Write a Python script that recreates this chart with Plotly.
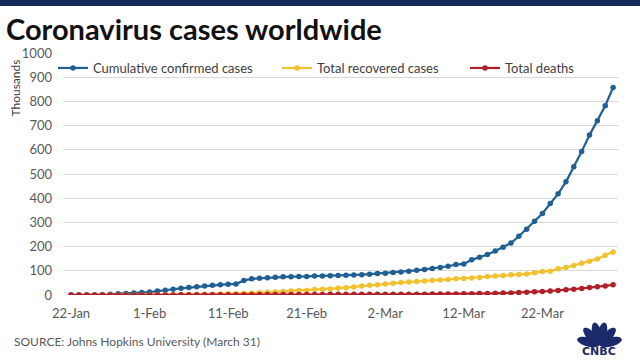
import math
import pandas as pd
import plotly.graph_objects as go

dates = pd.date_range("2020-01-22", "2020-03-31", freq="D")

confirmed = [0.555, 0.654, 0.941, 1.434, 2.118, 2.927, 5.578, 6.166, 8.234, 9.927,
             12.038, 16.787, 19.881, 23.892, 27.635, 30.794, 34.391, 37.120, 40.150, 42.762,
             44.802, 45.221, 60.368, 66.885, 69.030, 71.224, 73.258, 75.136, 75.639, 76.197,
             76.819, 78.572, 78.958, 79.561, 80.406, 81.388, 82.746, 84.112, 86.011,
             88.369, 90.306, 92.840, 95.120, 97.886, 101.801, 105.847, 109.821, 113.590, 118.620,
             125.875, 128.352, 145.205, 156.101, 167.454, 181.574, 197.102, 214.821, 242.570,
             272.208, 304.507, 336.953, 378.231, 418.041, 467.653, 529.591, 593.291, 660.706,
             720.117, 782.365, 857.487]
recovered = [0.028, 0.030, 0.036, 0.039, 0.052, 0.061, 0.107, 0.126, 0.143, 0.222,
             0.284, 0.472, 0.623, 0.852, 1.124, 1.487, 2.011, 2.616, 3.244, 3.946,
             4.683, 5.150, 6.295, 8.058, 9.395, 10.865, 12.583, 14.352, 16.121, 18.177,
             18.890, 22.886, 23.394, 25.227, 27.905, 30.384, 33.277, 36.711, 39.782,
             42.716, 45.602, 48.228, 51.170, 53.796, 55.865, 58.358, 60.694, 62.494, 64.404,
             67.003, 68.324, 70.251, 72.624, 76.034, 78.088, 80.840, 83.207, 84.854,
             87.256, 91.499, 97.490, 98.351, 108.000, 113.787, 122.150, 130.915, 139.415,
             149.082, 164.566, 178.034]
deaths = [0.017, 0.018, 0.026, 0.042, 0.056, 0.082, 0.131, 0.133, 0.171, 0.213,
          0.259, 0.362, 0.426, 0.492, 0.564, 0.634, 0.719, 0.806, 0.906, 1.013,
          1.113, 1.118, 1.371, 1.523, 1.666, 1.770, 1.868, 2.007, 2.122, 2.247,
          2.251, 2.458, 2.469, 2.629, 2.708, 2.770, 2.814, 2.872, 2.941,
          2.996, 3.085, 3.160, 3.254, 3.348, 3.460, 3.558, 3.802, 3.988, 4.262,
          4.615, 4.720, 5.404, 5.819, 6.440, 7.126, 7.905, 8.733, 9.867,
          11.299, 12.973, 14.623, 16.497, 18.615, 21.181, 23.970, 27.198, 30.652,
          33.925, 37.582, 42.107]

series_names = ["Cumulative confirmed cases", "Total recovered cases", "Total deaths"]
series_colors = ["#1f5f93", "#f2c12e", "#b0202a"]
tick_dates = ["2020-01-22", "2020-02-01", "2020-02-11", "2020-02-21",
              "2020-03-02", "2020-03-12", "2020-03-22"]
tick_labels = ["22-Jan", "1-Feb", "11-Feb", "21-Feb", "2-Mar", "12-Mar", "22-Mar"]

FONT = "Lato"
W, H = 640, 360
L, R, T, B = 63, 22, 53, 65
PW, PH = W - L - R, H - T - B

def px(x):
    return (x - L) / PW

def py(y):
    return (H - B - y) / PH

fig = go.Figure()
legend_ids = ["legend", "legend2", "legend3"]
for name, vals, col, lg in zip(series_names, [confirmed, recovered, deaths], series_colors, legend_ids):
    fig.add_trace(go.Scatter(
        x=dates, y=vals, name=name, mode="lines+markers",
        line=dict(color=col, width=2.2),
        marker=dict(color=col, size=5.5),
        legend=lg, showlegend=True,
    ))

legend_common = dict(orientation="h", bgcolor="rgba(0,0,0,0)", borderwidth=0,
                     font=dict(family=FONT, size=13, color="#404040"),
                     itemwidth=30, yanchor="middle", xanchor="left")
fig.update_layout(
    showlegend=True,
    legend=dict(x=px(53), y=py(68), **legend_common),
    legend2=dict(x=px(277), y=py(68), **legend_common),
    legend3=dict(x=px(465), y=py(68), **legend_common),
)

fig.update_xaxes(
    type="date",
    range=[pd.Timestamp("2020-01-22") - pd.Timedelta(hours=24.5),
           pd.Timestamp("2020-03-31") + pd.Timedelta(hours=15)],
    tickvals=tick_dates, ticktext=tick_labels,
    showgrid=False, zeroline=False, showline=False, ticks="", ticklabelstandoff=9,
    tickfont=dict(family=FONT, size=13, color="#595959"),
)
fig.update_yaxes(
    range=[0, 1000], dtick=100, showgrid=True, gridcolor="#d9d9d9", gridwidth=1,
    zeroline=False, showline=False, ticks="", ticklabelstandoff=10,
    tickfont=dict(family=FONT, size=13, color="#595959"),
)

annotations = [
    dict(text="<b>Coronavirus cases worldwide</b>", x=px(4), y=py(28), xref="paper", yref="paper",
         xanchor="left", yanchor="middle", showarrow=False,
         font=dict(family=FONT, size=29, color="#111111")),
    dict(text="Thousands", x=px(15), y=py(58), xref="paper", yref="paper",
         xanchor="center", yanchor="top", textangle=-90, showarrow=False,
         font=dict(family=FONT, size=12, color="#404040")),
    dict(text="SOURCE: Johns Hopkins University (March 31)", x=px(12), y=py(341), xref="paper", yref="paper",
         xanchor="left", yanchor="middle", showarrow=False,
         font=dict(family=FONT, size=12, color="#595959")),
    dict(text="<b>CNBC</b>", x=px(599), y=py(351), xref="paper", yref="paper",
         xanchor="center", yanchor="middle", showarrow=False,
         font=dict(family="DejaVu Sans", size=11, color="#1b2a6b")),
]

shapes = [
    dict(type="rect", xref="paper", yref="paper", x0=px(-2), x1=px(642), y0=py(-2), y1=py(6),
         fillcolor="#14285a", line=dict(width=0), layer="above"),
]

# CNBC peacock feathers (decoration)
cx, cy = 599.5, 345
for ang in [165, 133, 103, 77, 47, 15]:
    a = math.radians(ang)
    dist, la, lb = 11.5, 11.5, 4.6
    ex, ey = cx + dist * math.cos(a), cy - dist * math.sin(a)
    pts = []
    for k in range(24):
        t = 2 * math.pi * k / 24
        u, v = la * math.cos(t), lb * math.sin(t)
        xx = ex + u * math.cos(a) - v * math.sin(a)
        yy = ey - (u * math.sin(a) + v * math.cos(a))
        pts.append((px(xx), py(yy)))
    path = "M " + " L ".join(f"{p[0]:.5f},{p[1]:.5f}" for p in pts) + " Z"
    shapes.append(dict(type="path", xref="paper", yref="paper", path=path,
                       fillcolor="#1b2a6b", line=dict(width=0), layer="above"))

fig.update_layout(
    width=W, height=H, margin=dict(l=L, r=R, t=T, b=B),
    paper_bgcolor="white", plot_bgcolor="white",
    annotations=annotations, shapes=shapes,
    font=dict(family=FONT),
)

fig.write_html("out.html", config={"displayModeBar": False},
               post_script="document.body.style.margin='0';document.body.style.padding='0';")
